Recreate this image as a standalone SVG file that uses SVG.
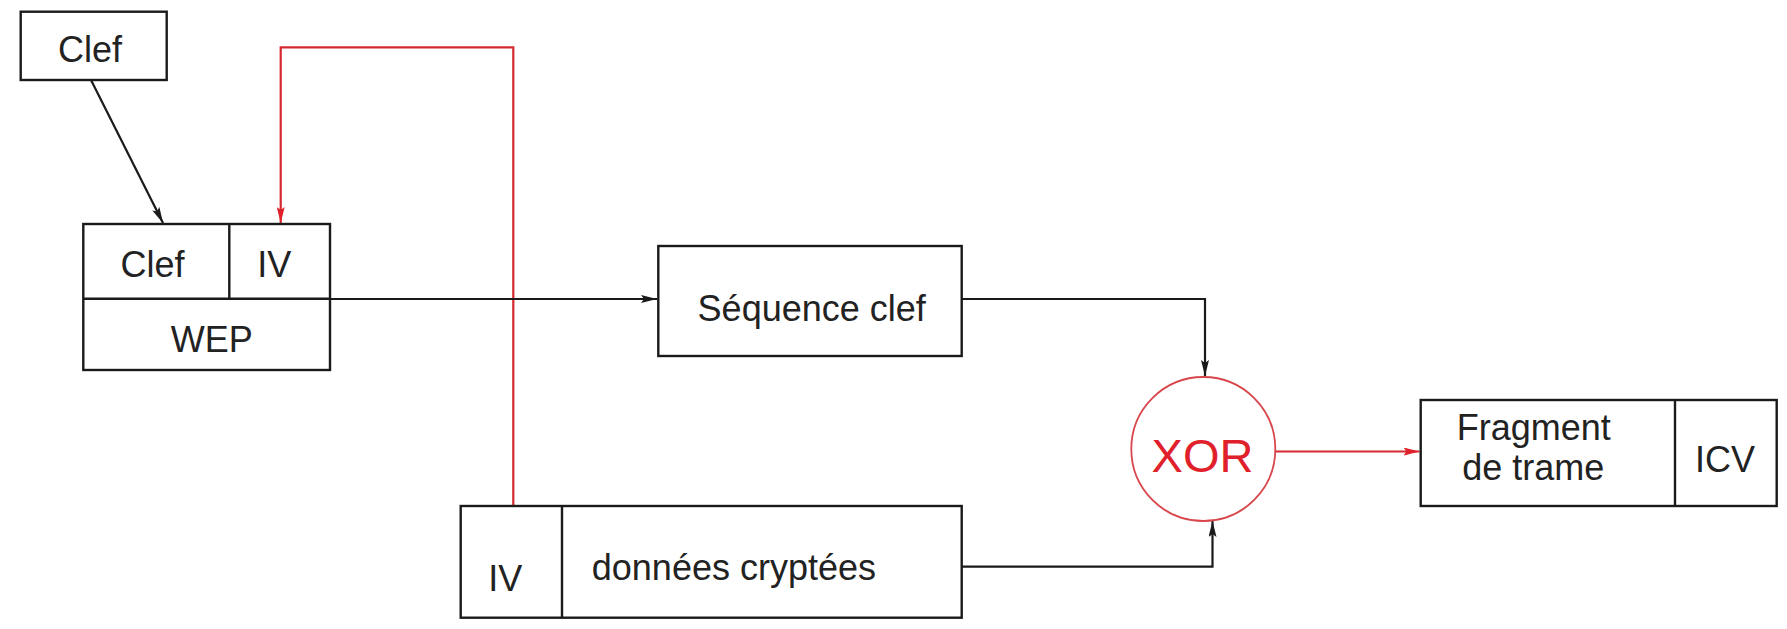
<svg xmlns="http://www.w3.org/2000/svg" width="1787" height="629" viewBox="0 0 1787 629">
  <style>
    .box { fill: none; stroke: #1a1a1a; stroke-width: 2.4; }
    .lbl { font-family: "Liberation Sans", Arial, sans-serif; font-size: 36px; fill: #222; }
    .mid { text-anchor: middle; }
    .wire { fill: none; stroke: #1a1a1a; stroke-width: 2.2; }
    .wire-red { fill: none; stroke: #d42a2f; stroke-width: 2.2; }
  </style>
  <defs>
    <marker id="arrow-black" viewBox="0 0 16 8" refX="16" refY="4" markerWidth="16" markerHeight="8" markerUnits="userSpaceOnUse" orient="auto">
      <path d="M0,0 L16,4 L0,8 L3,4 Z" fill="#1a1a1a"/>
    </marker>
    <marker id="arrow-red" viewBox="0 0 16 8" refX="16" refY="4" markerWidth="16" markerHeight="8" markerUnits="userSpaceOnUse" orient="auto">
      <path d="M0,0 L16,4 L0,8 L3,4 Z" fill="#e0202a"/>
    </marker>
  </defs>
  <rect width="1787" height="629" fill="#ffffff"/>

  <!-- connectors -->
  <g id="connectors">
    <line class="wire" x1="91" y1="80" x2="163" y2="223" marker-end="url(#arrow-black)"/>
    <polyline class="wire-red" points="513.3,506 513.3,47.3 280.7,47.3 280.7,223" marker-end="url(#arrow-red)"/>
    <line class="wire" x1="330" y1="299" x2="657" y2="299" marker-end="url(#arrow-black)"/>
    <polyline class="wire" points="961.7,299 1205,299 1205,376" marker-end="url(#arrow-black)"/>
    <polyline class="wire" points="961.7,566.7 1212.5,566.7 1212.5,521" marker-end="url(#arrow-black)"/>
    <line class="wire-red" x1="1275.5" y1="451.5" x2="1419.5" y2="451.5" marker-end="url(#arrow-red)"/>
  </g>

  <!-- key input -->
  <g id="clef">
    <rect class="box" x="20.7" y="11.7" width="146" height="68.3"/>
    <text class="lbl mid" x="90" y="62">Clef</text>
  </g>

  <!-- WEP block: key + IV over WEP -->
  <g id="wep">
    <rect class="box" x="83.3" y="224" width="246.7" height="146"/>
    <line class="box" x1="83.3" y1="298.7" x2="330" y2="298.7"/>
    <line class="box" x1="229.3" y1="224" x2="229.3" y2="298.7"/>
    <text class="lbl mid" x="152.5" y="276.7">Clef</text>
    <text class="lbl mid" x="274.3" y="276.7">IV</text>
    <text class="lbl mid" x="211.7" y="351.7">WEP</text>
  </g>

  <!-- keystream -->
  <g id="sequence">
    <rect class="box" x="658.3" y="246" width="303.4" height="110"/>
    <text class="lbl mid" x="811.7" y="320.7">Séquence clef</text>
  </g>

  <!-- encrypted data -->
  <g id="donnees">
    <rect class="box" x="460.7" y="506" width="501" height="111.7"/>
    <line class="box" x1="562" y1="506" x2="562" y2="617.7"/>
    <text class="lbl mid" x="505.2" y="591">IV</text>
    <text class="lbl" x="591.8" y="580">données cryptées</text>
  </g>

  <!-- XOR operator -->
  <g id="xor">
    <circle cx="1203.3" cy="449" r="72" fill="none" stroke="#d8464c" stroke-width="1.8"/>
    <text class="mid" x="1202.5" y="471.7" font-family="Liberation Sans, Arial, sans-serif" font-size="47" fill="#e0202a">XOR</text>
  </g>

  <!-- output frame -->
  <g id="fragment">
    <rect class="box" x="1420.7" y="400" width="356" height="106"/>
    <line class="box" x1="1675" y1="400" x2="1675" y2="506"/>
    <text class="lbl mid" x="1533.8" y="440" font-size="34">Fragment</text>
    <text class="lbl mid" x="1533.3" y="480" font-size="34">de trame</text>
    <text class="lbl mid" x="1725" y="472">ICV</text>
  </g>
</svg>
